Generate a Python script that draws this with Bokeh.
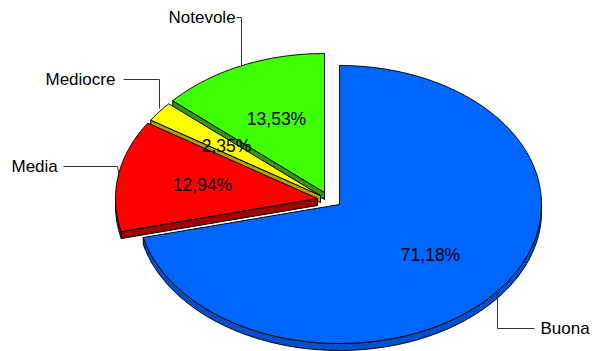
import numpy as np
from bokeh.plotting import figure
from bokeh.embed import file_html
from bokeh.resources import INLINE
from bokeh.core.properties import value

categories = ["Buona", "Media", "Mediocre", "Notevole"]
percent = [71.18, 12.94, 2.35, 13.53]
percent_labels = ["71,18%", "12,94%", "2,35%", "13,53%"]
top_colors = ["#0066ff", "#ff0000", "#ffff00", "#40ff00"]
side_colors = ["#0050cc", "#a00000", "#b3a000", "#339900"]
centers_x = [339, 317, 320, 324]
centers_y = [204, 198, 195, 192]
label_x = [430, 202, 226, 276]
label_y = [254, 184, 145, 118]
name_x = [540, 11, 45, 168]
name_y = [328, 166, 79, 17]
leaders_x = [[497, 497, 534], [63, 117, 119], [123, 159, 159], [236, 241, 241]]
leaders_y = [[290, 328, 328], [166, 166, 176], [79, 79, 108], [17, 17, 65]]

RX, RY, DEPTH = 202, 139, 7
W, H = 593, 351

p = figure(width=W, height=H, x_range=(0, W), y_range=(H, 0),
           output_backend="svg", toolbar_location=None, min_border=0,
           outline_line_color=None)
p.axis.visible = False
p.grid.visible = False
p.background_fill_color = "#ffffff"


def arc(cx, cy, a0, a1, dy=0):
    t = np.radians(np.linspace(a0, a1, max(int(abs(a1 - a0)) * 2, 2)))
    return cx + RX * np.sin(t), cy + dy - RY * np.cos(t)


edges = np.concatenate([[0], np.cumsum(percent) * 3.6])
edges = edges * 360 / edges[-1]
order = [3, 2, 1, 0]
for i in order:
    a0, a1 = edges[i], edges[i + 1]
    cx, cy = centers_x[i], centers_y[i]
    f0, f1 = max(a0, 90), min(a1, 270)
    if f1 > f0:
        ax, ay = arc(cx, cy, f0, f1)
        bx, by = arc(cx, cy, f0, f1, DEPTH)
        p.patch(np.r_[ax, bx[::-1]], np.r_[ay, by[::-1]], fill_color=side_colors[i],
                line_color="#000000", line_width=1)
    sx, sy = arc(cx, cy, a0, a0 + 1)
    if a0 > 180:
        p.patch([cx, sx[0], sx[0], cx], [cy, sy[0], sy[0] + DEPTH, cy + DEPTH],
                fill_color=side_colors[i], line_color="#000000", line_width=1)
    ax, ay = arc(cx, cy, a0, a1)
    p.patch(np.r_[cx, ax], np.r_[cy, ay], fill_color=top_colors[i],
            line_color="#000000", line_width=1)

for lx, ly in zip(leaders_x, leaders_y):
    p.line(lx, ly, line_color="#333333", line_width=1)

p.text(label_x, label_y, text=percent_labels, text_font=value("Liberation Sans"),
       text_font_size="17.5px", text_color="#000000", text_align="center",
       text_baseline="middle")
p.text(name_x, name_y, text=categories, text_font=value("Liberation Sans"),
       text_font_size="17px", text_color="#000000", text_align="left",
       text_baseline="middle")

open("out.html", "w").write(file_html(p, INLINE))
